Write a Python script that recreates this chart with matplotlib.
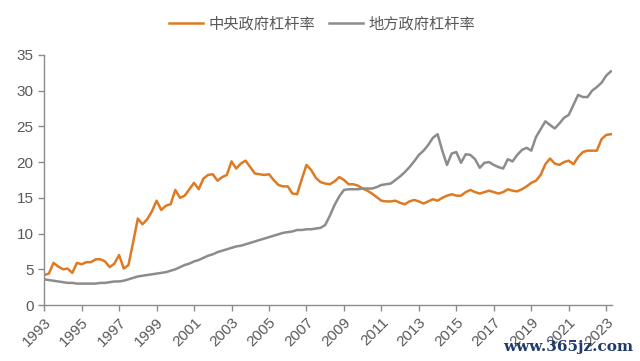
import matplotlib
matplotlib.use("Agg")
import matplotlib.pyplot as plt
import numpy as np

plt.rcParams['font.family'] = ['Liberation Sans', 'Noto Sans CJK SC', 'DejaVu Sans']

# quarterly data, 1993Q1 .. 2023Q2
central = [4.2, 4.4, 5.9, 5.4, 5.0, 5.1, 4.5, 5.9, 5.7, 6.0,
           6.0, 6.4, 6.4, 6.1, 5.3, 5.8, 7.0, 5.1, 5.6, 8.8,
           12.1, 11.3, 12.0, 13.1, 14.6, 13.3, 13.9, 14.1, 16.1, 15.0,
           15.3, 16.2, 17.1, 16.2, 17.7, 18.2, 18.3, 17.4, 17.9, 18.2,
           20.1, 19.1, 19.8, 20.2, 19.3, 18.4, 18.3, 18.2, 18.3, 17.5,
           16.8, 16.6, 16.6, 15.6, 15.5, 17.6, 19.6, 18.9, 17.8, 17.2,
           17.0, 16.9, 17.3, 17.9, 17.5, 16.9, 16.9, 16.7, 16.3, 16.0,
           15.6, 15.1, 14.6, 14.5, 14.5, 14.6, 14.3, 14.1, 14.5, 14.7,
           14.5, 14.2, 14.5, 14.8, 14.6, 15.0, 15.3, 15.5, 15.3, 15.3,
           15.8, 16.1, 15.8, 15.6, 15.8, 16.0, 15.8, 15.6, 15.8, 16.2,
           16.0, 15.9, 16.2, 16.6, 17.1, 17.4, 18.2, 19.7, 20.5, 19.8,
           19.6, 20.0, 20.2, 19.7, 20.7, 21.4, 21.6, 21.6, 21.6, 23.2,
           23.8, 23.9]

local = [3.6, 3.5, 3.4, 3.3, 3.2, 3.1, 3.1, 3.0, 3.0, 3.0,
         3.0, 3.0, 3.1, 3.1, 3.2, 3.3, 3.3, 3.4, 3.6, 3.8,
         4.0, 4.1, 4.2, 4.3, 4.4, 4.5, 4.6, 4.8, 5.0, 5.3,
         5.6, 5.8, 6.1, 6.3, 6.6, 6.9, 7.1, 7.4, 7.6, 7.8,
         8.0, 8.2, 8.3, 8.5, 8.7, 8.9, 9.1, 9.3, 9.5, 9.7,
         9.9, 10.1, 10.2, 10.3, 10.5, 10.5, 10.6, 10.6, 10.7, 10.8,
         11.2, 12.5, 14.0, 15.2, 16.1, 16.2, 16.2, 16.2, 16.3, 16.3,
         16.3, 16.5, 16.8, 16.9, 17.0, 17.5, 18.0, 18.6, 19.3, 20.1,
         21.0, 21.6, 22.4, 23.4, 23.9, 21.6, 19.6, 21.2, 21.4, 19.9,
         21.1, 21.0, 20.4, 19.2, 19.9, 20.0, 19.6, 19.3, 19.1, 20.4,
         20.1, 21.0, 21.7, 22.0, 21.6, 23.5, 24.6, 25.7, 25.2, 24.7,
         25.4, 26.2, 26.6, 28.0, 29.4, 29.1, 29.1, 30.0, 30.5, 31.1,
         32.1, 32.7]

years = list(range(1993, 2024, 2))
labels = ['中央政府杠杆率', '地方政府杠杆率']

x = np.arange(len(central))

fig = plt.figure(figsize=(6.4, 3.61), dpi=100)
ax = fig.add_axes([0.069, 0.155, 0.887, 0.693])

ax.plot(x, central, color='#DE7A22', lw=1.8, label=labels[0])
ax.plot(x, local, color='#8C8C8C', lw=1.8, label=labels[1])

ax.set_xlim(0, 121.2)
ax.set_ylim(0, 35)
ax.set_yticks(range(0, 36, 5))
ax.set_xticks([(y - 1993) * 4 for y in years])
ax.set_xticklabels([str(y) for y in years], rotation=45, ha='right',
                   rotation_mode='anchor')

for s in ['top', 'right']:
    ax.spines[s].set_visible(False)
for s in ['left', 'bottom']:
    ax.spines[s].set_color('#8C8C8C')
    ax.spines[s].set_linewidth(1.0)
ax.tick_params(colors='#8C8C8C', labelcolor='#595959', labelsize=11,
               length=4, width=1.0)

ax.legend(loc='lower center', bbox_to_anchor=(0.49, 1.04), ncol=2,
          frameon=False, fontsize=11, labelcolor='#595959',
          handlelength=2.2, columnspacing=0.9, handletextpad=0.4)

fig.text(0.99, 0.02, 'www.365jz.com', ha='right', va='bottom',
         family='DejaVu Serif', fontsize=11, fontweight='bold', color='#1F3A6E')

fig.savefig('out.png', dpi=100)
